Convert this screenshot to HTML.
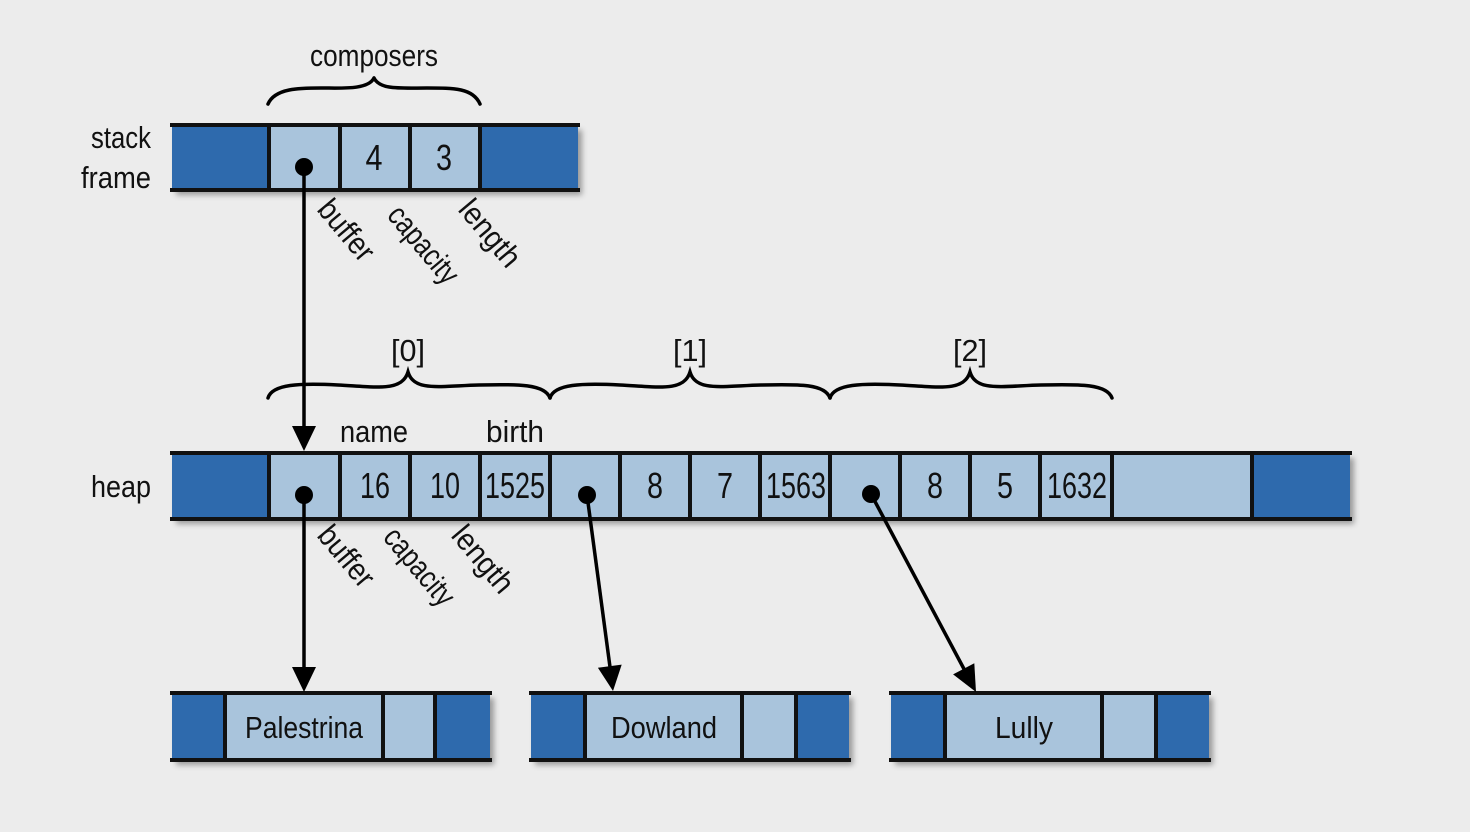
<!DOCTYPE html>
<html><head><meta charset="utf-8"><style>
html,body{margin:0;padding:0;background:#ececec;}
svg{display:block}
text{font-family:"Liberation Sans Narrow","Liberation Sans",sans-serif;fill:#111;}
</style></head><body>
<svg width="1470" height="832" viewBox="0 0 1470 832" xmlns="http://www.w3.org/2000/svg">
<defs>
<filter id="sh" x="-5%" y="-20%" width="110%" height="160%"><feDropShadow dx="4" dy="5" stdDeviation="3" flood-color="#000" flood-opacity="0.35"/></filter>
</defs>
<g fill="none" stroke="#000" stroke-width="3.5" stroke-linecap="round">
<path d="M268,104 C275,88 300,88 321,88 S368,90 374,78 M374,78 C380,90 400,88 427,88 S473,88 480,104"/>
<path d="M268,398 C272,384 300,383 338,385 S402,392 408,372 C414,392 440,386 479,385 S545,384 550,398"/>
<path d="M550,398 C554,384 582,383 620,385 S684,392 690,372 C696,392 722,386 761,385 S825,384 830,398"/>
<path d="M830,398 C834,384 862,383 900,385 S964,392 970,372 C976,392 1002,386 1041,385 S1107,384 1112,398"/>
</g>
<g filter="url(#sh)"><rect x="172" y="125" width="406" height="65" fill="#a9c4dc"/></g>
<rect x="172" y="125" width="97" height="65" fill="#2e6aad"/>
<rect x="480" y="125" width="98" height="65" fill="#2e6aad"/>
<g stroke="#111" stroke-width="4">
<line x1="170" y1="125" x2="580" y2="125"/><line x1="170" y1="190" x2="580" y2="190"/>
<line x1="269" y1="125" x2="269" y2="190"/><line x1="340" y1="125" x2="340" y2="190"/><line x1="410" y1="125" x2="410" y2="190"/><line x1="480" y1="125" x2="480" y2="190"/>
</g>
<g filter="url(#sh)"><rect x="172" y="453" width="1178" height="66" fill="#a9c4dc"/></g>
<rect x="172" y="453" width="97" height="66" fill="#2e6aad"/>
<rect x="1252" y="453" width="98" height="66" fill="#2e6aad"/>
<g stroke="#111" stroke-width="4">
<line x1="170" y1="453" x2="1352" y2="453"/><line x1="170" y1="519" x2="1352" y2="519"/>
<line x1="269" y1="453" x2="269" y2="519"/><line x1="340" y1="453" x2="340" y2="519"/><line x1="410" y1="453" x2="410" y2="519"/><line x1="480" y1="453" x2="480" y2="519"/><line x1="550" y1="453" x2="550" y2="519"/><line x1="620" y1="453" x2="620" y2="519"/><line x1="690" y1="453" x2="690" y2="519"/><line x1="760" y1="453" x2="760" y2="519"/><line x1="830" y1="453" x2="830" y2="519"/><line x1="900" y1="453" x2="900" y2="519"/><line x1="970" y1="453" x2="970" y2="519"/><line x1="1040" y1="453" x2="1040" y2="519"/><line x1="1112" y1="453" x2="1112" y2="519"/><line x1="1252" y1="453" x2="1252" y2="519"/>
</g>
<g filter="url(#sh)">
<rect x="172" y="693" width="318" height="67" fill="#a9c4dc"/>
<rect x="531" y="693" width="318" height="67" fill="#a9c4dc"/>
<rect x="891" y="693" width="318" height="67" fill="#a9c4dc"/>
</g>
<g fill="#2e6aad">
<rect x="172" y="693" width="53" height="67"/><rect x="435" y="693" width="55" height="67"/>
<rect x="531" y="693" width="54" height="67"/><rect x="796" y="693" width="53" height="67"/>
<rect x="891" y="693" width="54" height="67"/><rect x="1156" y="693" width="53" height="67"/>
</g>
<g stroke="#111" stroke-width="4">
<line x1="170" y1="693" x2="492" y2="693"/><line x1="170" y1="760" x2="492" y2="760"/>
<line x1="225" y1="693" x2="225" y2="760"/><line x1="383" y1="693" x2="383" y2="760"/><line x1="435" y1="693" x2="435" y2="760"/>
<line x1="529" y1="693" x2="851" y2="693"/><line x1="529" y1="760" x2="851" y2="760"/>
<line x1="585" y1="693" x2="585" y2="760"/><line x1="742" y1="693" x2="742" y2="760"/><line x1="796" y1="693" x2="796" y2="760"/>
<line x1="889" y1="693" x2="1211" y2="693"/><line x1="889" y1="760" x2="1211" y2="760"/>
<line x1="945" y1="693" x2="945" y2="760"/><line x1="1102" y1="693" x2="1102" y2="760"/><line x1="1156" y1="693" x2="1156" y2="760"/>
</g>
<g stroke="#000" stroke-width="3.5" fill="none">
<line x1="304" y1="167" x2="304" y2="428"/>
<line x1="304" y1="495" x2="304" y2="668"/>
<line x1="587" y1="495" x2="610" y2="667"/>
<line x1="871" y1="494" x2="964" y2="669"/>
</g>
<g fill="#000">
<polygon points="304,451 292,426 316,426"/>
<polygon points="304,692 292,667 316,667"/>
<polygon points="613,691 621.7,664.6 597.9,667.8"/>
<polygon points="976,692 974.3,663.2 953.1,674.4"/>
<circle cx="304" cy="167" r="9"/><circle cx="304" cy="495" r="9"/><circle cx="587" cy="495" r="9"/><circle cx="871" cy="494" r="9"/>
</g>
<g font-size="31">
<text x="374" y="66" text-anchor="middle" textLength="128" lengthAdjust="spacingAndGlyphs">composers</text>
<text x="151" y="148" text-anchor="end" textLength="60" lengthAdjust="spacingAndGlyphs">stack</text>
<text x="151" y="188" text-anchor="end" textLength="70" lengthAdjust="spacingAndGlyphs">frame</text>
<text x="151" y="497" text-anchor="end" textLength="60" lengthAdjust="spacingAndGlyphs">heap</text>
<text x="408" y="361" text-anchor="middle" textLength="34" lengthAdjust="spacingAndGlyphs">[0]</text>
<text x="690" y="361" text-anchor="middle" textLength="34" lengthAdjust="spacingAndGlyphs">[1]</text>
<text x="970" y="361" text-anchor="middle" textLength="34" lengthAdjust="spacingAndGlyphs">[2]</text>
<text x="374" y="442" text-anchor="middle" textLength="68" lengthAdjust="spacingAndGlyphs">name</text>
<text x="515" y="442" text-anchor="middle" textLength="58" lengthAdjust="spacingAndGlyphs">birth</text>
<text x="304" y="738" text-anchor="middle" textLength="118" lengthAdjust="spacingAndGlyphs">Palestrina</text>
<text x="664" y="738" text-anchor="middle" textLength="106" lengthAdjust="spacingAndGlyphs">Dowland</text>
<text x="1024" y="738" text-anchor="middle" textLength="58" lengthAdjust="spacingAndGlyphs">Lully</text>
<text transform="translate(316,210) rotate(50)" textLength="70" lengthAdjust="spacingAndGlyphs">buffer</text>
<text transform="translate(386,216) rotate(50)" textLength="92" lengthAdjust="spacingAndGlyphs">capacity</text>
<text transform="translate(457,210) rotate(50)" textLength="78" lengthAdjust="spacingAndGlyphs">length</text>
<text transform="translate(316,536) rotate(50)" textLength="70" lengthAdjust="spacingAndGlyphs">buffer</text>
<text transform="translate(382,538) rotate(50)" textLength="92" lengthAdjust="spacingAndGlyphs">capacity</text>
<text transform="translate(450,536) rotate(50)" textLength="78" lengthAdjust="spacingAndGlyphs">length</text>
</g>
<g font-size="36">
<text x="374" y="170" text-anchor="middle" textLength="17" lengthAdjust="spacingAndGlyphs">4</text>
<text x="444" y="170" text-anchor="middle" textLength="16" lengthAdjust="spacingAndGlyphs">3</text>
<text x="375" y="498" text-anchor="middle" textLength="30" lengthAdjust="spacingAndGlyphs">16</text>
<text x="445" y="498" text-anchor="middle" textLength="30" lengthAdjust="spacingAndGlyphs">10</text>
<text x="515" y="498" text-anchor="middle" textLength="60" lengthAdjust="spacingAndGlyphs">1525</text>
<text x="655" y="498" text-anchor="middle" textLength="16" lengthAdjust="spacingAndGlyphs">8</text>
<text x="725" y="498" text-anchor="middle" textLength="16" lengthAdjust="spacingAndGlyphs">7</text>
<text x="796" y="498" text-anchor="middle" textLength="60" lengthAdjust="spacingAndGlyphs">1563</text>
<text x="935" y="498" text-anchor="middle" textLength="16" lengthAdjust="spacingAndGlyphs">8</text>
<text x="1005" y="498" text-anchor="middle" textLength="16" lengthAdjust="spacingAndGlyphs">5</text>
<text x="1077" y="498" text-anchor="middle" textLength="60" lengthAdjust="spacingAndGlyphs">1632</text>
</g>
</svg>
</body></html>
